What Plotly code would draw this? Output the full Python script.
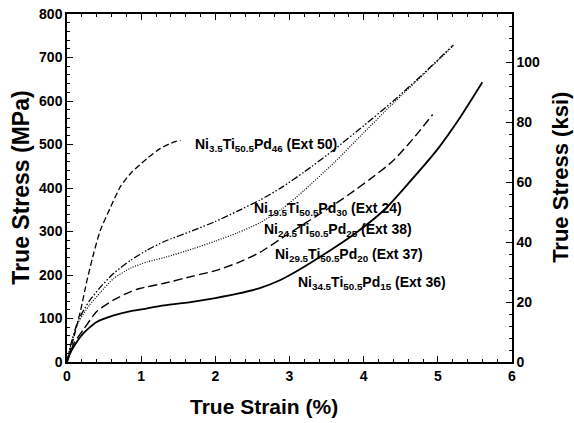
import plotly.graph_objects as go

# ---- data ----
x_ext36 = [0, 0.03, 0.09, 0.22, 0.40, 0.63, 0.86, 1.0, 1.31, 1.71, 2.0, 2.3, 2.6, 2.87, 3.09, 3.35, 3.88, 4.28, 4.6, 5.0, 5.3, 5.6]
y_ext36 = [0, 15, 35, 66, 92, 107, 117, 121, 130, 139, 147, 157, 170, 188, 208, 235, 295, 350, 410, 490, 562, 643]

x_ext37 = [0, 0.05, 0.1, 0.22, 0.40, 0.63, 0.86, 0.98, 1.31, 1.71, 2.0, 2.3, 2.6, 2.9, 3.2, 3.5, 3.8, 4.1, 4.4, 4.7, 4.93]
y_ext37 = [0, 25, 45, 74, 116, 143, 162, 169, 181, 198, 210, 228, 252, 285, 318, 350, 385, 422, 463, 520, 569]

x_ext38 = [0, 0.05, 0.15, 0.3, 0.45, 0.63, 0.86, 1.08, 1.31, 1.71, 2.0, 2.3, 2.6, 2.9, 3.2, 3.6, 4.0, 4.4, 4.8, 5.21]
y_ext38 = [0, 38, 90, 130, 160, 192, 216, 230, 240, 261, 278, 297, 320, 352, 395, 458, 527, 595, 660, 727]

x_ext24 = [0, 0.05, 0.15, 0.3, 0.45, 0.63, 0.86, 1.08, 1.31, 1.71, 2.0, 2.3, 2.6, 2.9, 3.2, 3.6, 4.0, 4.4, 4.8, 5.21]
y_ext24 = [0, 40, 95, 140, 172, 204, 234, 257, 277, 303, 323, 347, 372, 402, 437, 488, 543, 600, 662, 729]

x_ext50 = [0, 0.05, 0.094, 0.185, 0.27, 0.36, 0.45, 0.59, 0.72, 0.86, 1.08, 1.25, 1.40, 1.53]
y_ext50 = [0, 30, 58, 120, 188, 250, 303, 357, 403, 434, 468, 490, 503, 510]

labels = [
    "Ni<sub>3.5</sub>Ti<sub>50.5</sub>Pd<sub>46</sub> (Ext 50)",
    "Ni<sub>19.5</sub>Ti<sub>50.5</sub>Pd<sub>30</sub> (Ext 24)",
    "Ni<sub>24.5</sub>Ti<sub>50.5</sub>Pd<sub>25</sub> (Ext 38)",
    "Ni<sub>29.5</sub>Ti<sub>50.5</sub>Pd<sub>20</sub> (Ext 37)",
    "Ni<sub>34.5</sub>Ti<sub>50.5</sub>Pd<sub>15</sub> (Ext 36)",
]
label_x = [1.70, 2.49, 2.63, 2.78, 3.09]
label_y = [499, 352, 303, 246, 182]

MPA_PER_KSI = 6.894757
x_range = [0, 6]
y_range = [0, 800]

FONT = "Arial, Liberation Sans, sans-serif"

fig = go.Figure()
series = [
    (x_ext36, y_ext36, dict(color="black", width=1.8, dash="solid")),
    (x_ext37, y_ext37, dict(color="black", width=1.4, dash="9px,4px")),
    (x_ext38, y_ext38, dict(color="black", width=1.2, dash="1px,1.5px")),
    (x_ext24, y_ext24, dict(color="black", width=1.3, dash="7px,2px,1.5px,2px,1.5px,2px")),
    (x_ext50, y_ext50, dict(color="black", width=1.3, dash="6px,3px")),
]
for xs, ys, ln in series:
    fig.add_trace(go.Scatter(x=xs, y=ys, mode="lines", line=dict(shape="spline", smoothing=0.6, **ln),
                             showlegend=False, hoverinfo="skip"))

# the ksi axis: same solid curve expressed in ksi, drawn invisibly so the right axis is rendered
fig.add_trace(go.Scatter(x=x_ext36, y=[v / MPA_PER_KSI for v in y_ext36], yaxis="y2", mode="lines",
                         line=dict(width=0, color="rgba(0,0,0,0)"), showlegend=False, hoverinfo="skip"))

for t, lx, ly in zip(labels, label_x, label_y):
    fig.add_annotation(x=lx, y=ly, xref="x", yref="y", text="<b>" + t + "</b>", showarrow=False,
                       xanchor="left", yanchor="middle", font=dict(family=FONT, size=14, color="black"))

# axis titles
fig.add_annotation(x=0.4427, y=-0.129, xref="paper", yref="paper", text="<b>True Strain (%)</b>",
                   showarrow=False, xanchor="center", yanchor="middle",
                   font=dict(family=FONT, size=21, color="black"))
fig.add_annotation(x=-0.1034, y=0.501, xref="paper", yref="paper", text="<b>True Stress (MPa)</b>",
                   showarrow=False, xanchor="center", yanchor="middle", textangle=-90,
                   font=dict(family=FONT, size=23, color="black"))
fig.add_annotation(x=1.1101, y=0.532, xref="paper", yref="paper", text="<b>True Stress (ksi)</b>",
                   showarrow=False, xanchor="center", yanchor="middle", textangle=-90,
                   font=dict(family=FONT, size=22, color="black"))

tickfont = dict(family=FONT, size=14, color="black", weight="bold")
fig.update_layout(
    width=574, height=423,
    margin=dict(l=67, r=62, t=14, b=61, autoexpand=False),
    paper_bgcolor="white", plot_bgcolor="white",
    xaxis=dict(range=x_range, dtick=1, tick0=0, showgrid=False, zeroline=False, automargin=False,
               showline=True, linecolor="black", linewidth=1.5, mirror="ticks",
               ticks="inside", ticklen=6, tickwidth=1.2, tickcolor="black",
               minor=dict(dtick=0.2, ticks="inside", ticklen=3, tickwidth=1, tickcolor="black"),
               tickfont=tickfont),
    yaxis=dict(range=y_range, dtick=100, tick0=0, showgrid=False, zeroline=False, automargin=False,
               showline=True, linecolor="black", linewidth=1.5,
               ticks="inside", ticklen=6, tickwidth=1.2, tickcolor="black",
               minor=dict(dtick=20, ticks="inside", ticklen=3, tickwidth=1, tickcolor="black"),
               tickfont=tickfont),
    yaxis2=dict(range=[y_range[0] / MPA_PER_KSI, y_range[1] / MPA_PER_KSI], dtick=20, tick0=0,
                overlaying="y", side="right", showgrid=False, zeroline=False, automargin=False,
                showline=True, linecolor="black", linewidth=1.5,
                ticks="inside", ticklen=6, tickwidth=1.2, tickcolor="black",
                minor=dict(dtick=4, ticks="inside", ticklen=3, tickwidth=1, tickcolor="black"),
                tickfont=tickfont),
)

# remove the browser's default 8px body margin so the figure sits at the page's top-left corner
fig.write_html("out.html", config={"displayModeBar": False},
               post_script="document.body.style.margin='0px';")
